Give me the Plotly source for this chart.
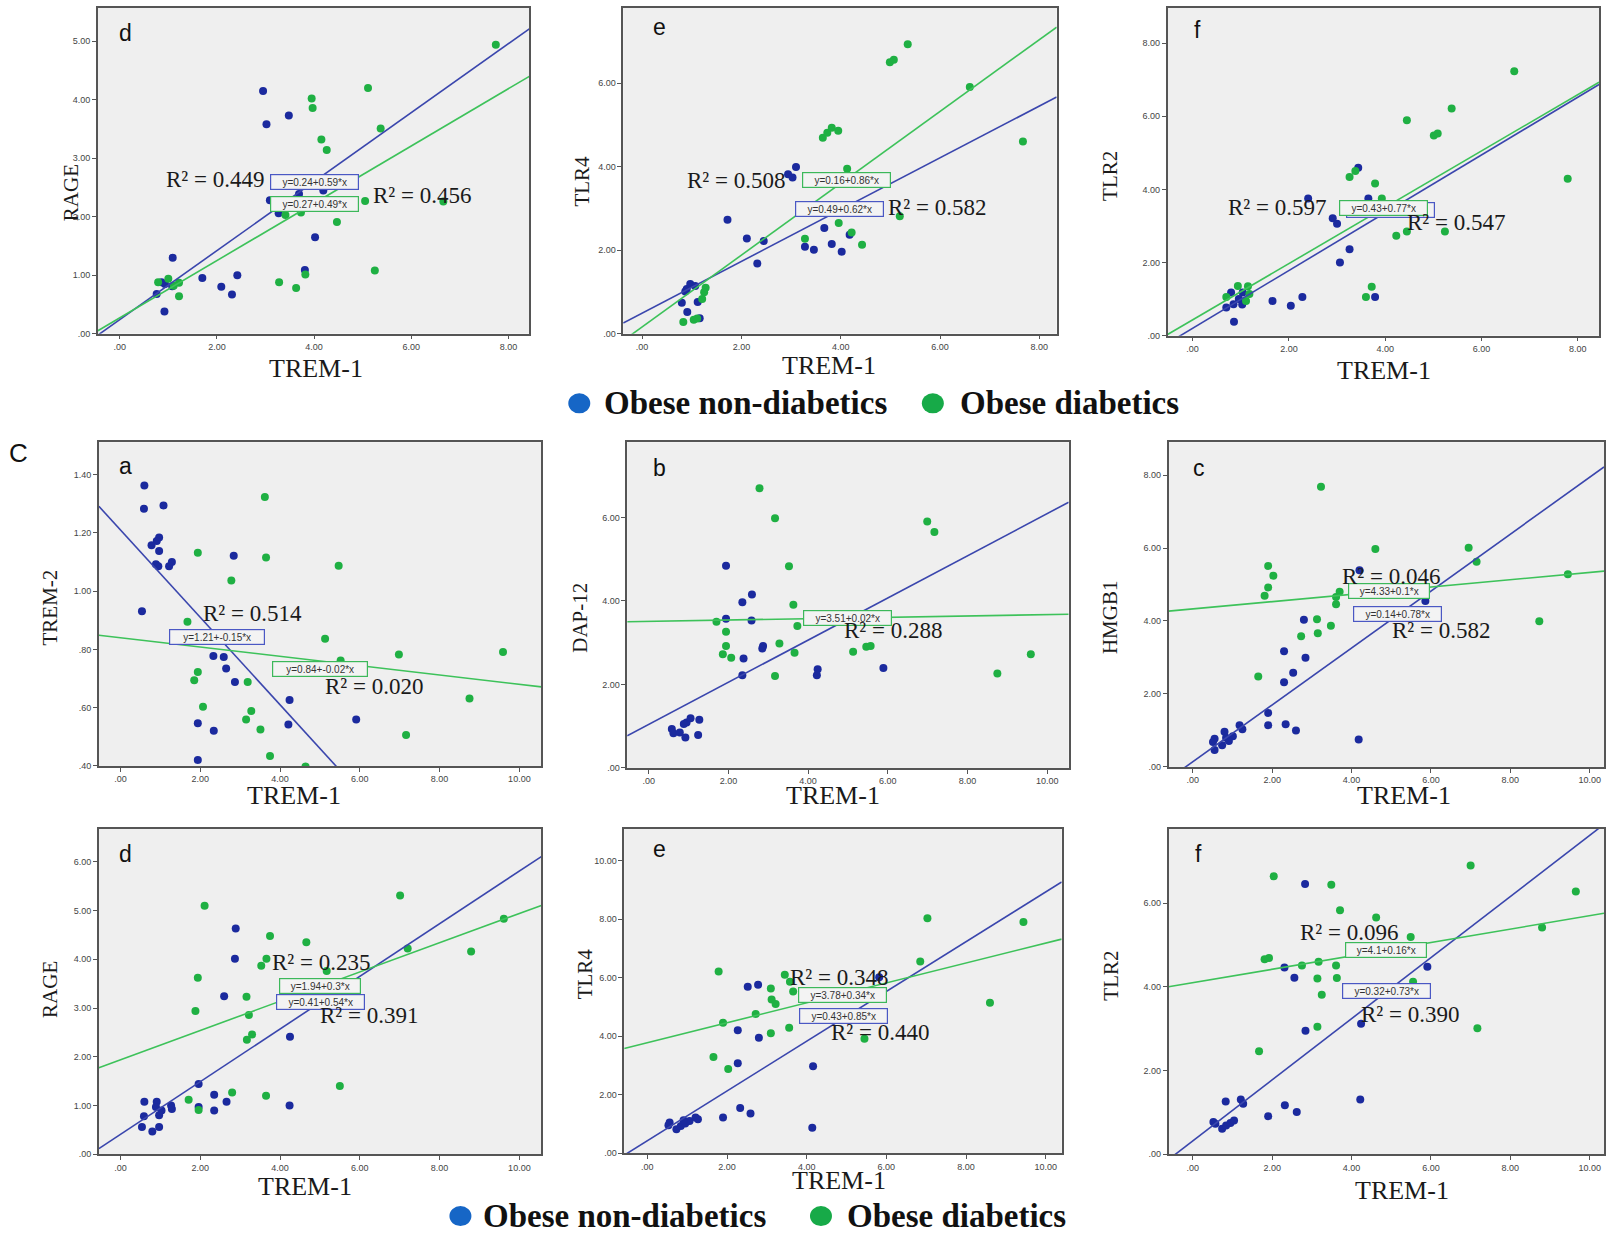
import plotly.graph_objects as go

W, H = 1606, 1238

# ---------------- data ----------------
# Row 1 : d (RAGE), e (TLR4), f (TLR2) vs TREM-1
r1d_blue_x = [2.95, 3.02, 3.48, 3.09, 3.69, 3.27, 4.19, 4.02, 3.81, 1.09, 1.70, 2.09, 2.42, 2.31, 0.92, 0.86, 1.08, 0.76, 0.93]
r1d_blue_y = [4.15, 3.58, 3.73, 2.28, 2.39, 2.06, 2.45, 1.65, 1.09, 1.30, 0.95, 0.80, 1.00, 0.67, 0.38, 0.88, 0.81, 0.68, 0.85]
r1d_green_x = [7.74, 5.11, 3.95, 3.97, 5.37, 4.15, 4.26, 5.05, 6.66, 3.73, 3.41, 4.47, 5.25, 3.82, 3.28, 3.63, 0.79, 1.00, 1.22, 1.11, 1.22]
r1d_green_y = [4.94, 4.20, 4.02, 3.86, 3.51, 3.32, 3.14, 2.27, 2.26, 2.07, 2.03, 1.91, 1.08, 1.01, 0.88, 0.78, 0.88, 0.94, 0.87, 0.82, 0.64]

r1e_blue_x = [3.10, 2.94, 3.03, 1.72, 2.11, 2.45, 2.32, 3.67, 3.28, 3.46, 3.82, 4.02, 4.18, 0.97, 0.90, 1.07, 0.87, 0.80, 1.12, 0.91, 1.16]
r1e_blue_y = [3.99, 3.82, 3.74, 2.73, 2.28, 2.22, 1.68, 2.53, 2.08, 2.01, 2.15, 1.96, 2.37, 1.19, 1.07, 1.14, 1.01, 0.74, 0.76, 0.52, 0.37]
r1e_green_x = [5.35, 4.99, 5.07, 6.60, 7.67, 3.64, 3.73, 3.82, 3.95, 4.13, 5.19, 3.96, 4.22, 3.28, 4.43, 1.28, 1.25, 1.21, 0.83, 1.04, 1.11]
r1e_green_y = [6.93, 6.50, 6.56, 5.91, 4.60, 4.69, 4.81, 4.93, 4.86, 3.95, 2.81, 2.65, 2.42, 2.27, 2.13, 1.10, 0.99, 0.83, 0.28, 0.33, 0.36]

r1f_blue_x = [3.44, 2.40, 3.65, 2.91, 3.00, 3.26, 3.06, 2.28, 1.66, 2.04, 3.79, 0.80, 1.04, 0.70, 0.85, 0.96, 1.03, 0.86]
r1f_blue_y = [4.59, 3.75, 3.75, 3.21, 3.06, 2.36, 2.00, 1.06, 0.95, 0.82, 1.06, 1.18, 1.18, 0.77, 0.86, 1.00, 0.85, 0.38]
r1f_green_x = [6.68, 5.38, 4.45, 5.01, 5.09, 7.79, 3.26, 3.38, 3.79, 3.93, 4.23, 4.45, 5.24, 3.72, 3.60, 0.94, 1.15, 0.70, 1.11, 1.18]
r1f_green_y = [7.23, 6.21, 5.89, 5.47, 5.53, 4.29, 4.34, 4.50, 4.16, 3.75, 2.73, 2.85, 2.85, 1.34, 1.06, 1.36, 1.35, 1.06, 0.95, 1.14]

# Row 2 : a (TREM-2), b (DAP-12), c (HMGB1) vs TREM-1
r2a_blue_x = [0.60, 0.59, 1.08, 0.97, 0.91, 0.78, 0.97, 0.89, 0.95, 1.29, 1.22, 2.84, 0.54, 2.33, 2.59, 2.65, 2.87, 4.24, 1.94, 2.34, 4.21, 5.91, 1.94]
r2a_blue_y = [1.362, 1.283, 1.294, 1.184, 1.172, 1.157, 1.138, 1.092, 1.085, 1.100, 1.085, 1.121, 0.931, 0.777, 0.774, 0.734, 0.688, 0.626, 0.546, 0.521, 0.542, 0.559, 0.420]
r2a_green_x = [3.62, 1.94, 3.65, 5.47, 2.78, 1.68, 5.13, 6.98, 9.59, 1.94, 1.85, 3.19, 2.07, 3.28, 3.15, 3.51, 8.75, 7.16, 3.75, 4.64, 5.52]
r2a_green_y = [1.323, 1.132, 1.115, 1.087, 1.036, 0.895, 0.836, 0.782, 0.791, 0.722, 0.694, 0.688, 0.603, 0.588, 0.559, 0.525, 0.631, 0.506, 0.434, 0.398, 0.762]

r2b_blue_x = [1.94, 2.59, 2.35, 1.94, 2.58, 2.87, 2.85, 2.38, 2.35, 4.24, 4.22, 5.89, 0.58, 0.62, 0.78, 0.95, 1.05, 1.27, 0.92, 1.24, 0.88]
r2b_blue_y = [4.84, 4.15, 3.97, 3.57, 3.53, 2.92, 2.86, 2.62, 2.22, 2.36, 2.22, 2.39, 0.93, 0.83, 0.85, 1.09, 1.19, 1.15, 0.73, 0.79, 1.05]
r2b_green_x = [2.78, 3.17, 6.99, 7.17, 3.52, 3.63, 1.70, 1.94, 3.73, 1.94, 3.28, 1.86, 2.07, 3.66, 5.13, 5.46, 5.57, 3.17, 8.75, 9.59]
r2b_green_y = [6.70, 5.98, 5.90, 5.65, 4.83, 3.91, 3.50, 3.26, 3.40, 2.92, 2.98, 2.72, 2.64, 2.76, 2.78, 2.90, 2.92, 2.20, 2.26, 2.72]

r2c_blue_x = [4.20, 5.86, 2.80, 2.30, 2.84, 2.53, 2.30, 1.90, 1.90, 2.34, 2.60, 4.18, 1.18, 1.25, 1.01, 0.80, 0.84, 0.55, 0.55, 0.74, 0.91, 0.51]
r2c_blue_y = [5.39, 4.55, 4.03, 3.17, 2.99, 2.58, 2.32, 1.48, 1.14, 1.17, 1.00, 0.75, 1.14, 1.03, 0.84, 0.96, 0.80, 0.77, 0.46, 0.59, 0.71, 0.68]
r2c_green_x = [3.23, 4.60, 6.95, 7.15, 9.45, 1.90, 2.03, 1.90, 1.81, 3.70, 3.61, 3.61, 3.13, 3.48, 2.73, 3.15, 1.65, 8.73]
r2c_green_y = [7.68, 5.97, 6.01, 5.62, 5.28, 5.51, 5.24, 4.92, 4.69, 4.80, 4.66, 4.46, 4.05, 3.87, 3.58, 3.66, 2.48, 3.99]

# Row 3 : d (RAGE), e (TLR4), f (TLR2) vs TREM-1
r3d_blue_x = [2.89, 2.87, 2.60, 4.25, 1.96, 4.24, 2.35, 2.66, 2.35, 1.96, 0.60, 0.91, 0.89, 1.03, 1.29, 0.97, 0.59, 0.54, 0.80, 0.97, 1.27]
r3d_blue_y = [4.63, 4.01, 3.24, 2.41, 1.44, 1.00, 1.22, 1.08, 0.90, 0.97, 1.08, 1.08, 0.97, 0.90, 0.93, 0.80, 0.78, 0.56, 0.47, 0.56, 1.00]
r3d_green_x = [7.01, 2.11, 9.61, 3.75, 4.66, 8.79, 3.66, 3.53, 5.17, 7.20, 1.94, 3.16, 1.88, 3.22, 3.30, 3.17, 5.50, 2.80, 1.71, 3.65, 1.96]
r3d_green_y = [5.31, 5.10, 4.83, 4.48, 4.35, 4.16, 4.01, 3.87, 3.76, 4.22, 3.62, 3.23, 2.94, 2.86, 2.46, 2.35, 1.40, 1.27, 1.12, 1.20, 0.91]

r3e_blue_x = [2.52, 2.78, 5.82, 2.27, 2.80, 2.27, 4.16, 2.33, 2.59, 1.90, 4.14, 0.56, 0.53, 0.73, 0.84, 0.95, 1.06, 1.21, 1.27, 0.91]
r3e_blue_y = [5.69, 5.76, 6.01, 4.20, 3.95, 3.08, 2.97, 1.55, 1.36, 1.22, 0.87, 1.05, 0.96, 0.82, 0.93, 1.02, 1.10, 1.22, 1.16, 1.13]
r3e_green_x = [7.03, 9.44, 6.85, 1.79, 3.45, 3.58, 3.10, 3.66, 3.12, 3.22, 2.72, 1.90, 3.10, 3.56, 5.45, 1.66, 2.03, 8.60]
r3e_green_y = [8.03, 7.90, 6.55, 6.21, 6.10, 5.86, 5.63, 5.53, 5.25, 5.10, 4.76, 4.46, 4.10, 4.29, 3.91, 3.29, 2.88, 5.14]

r3f_blue_x = [2.83, 2.31, 2.56, 5.91, 4.24, 2.84, 4.22, 0.83, 1.21, 1.27, 2.32, 2.62, 1.90, 0.52, 0.57, 0.74, 0.84, 0.95, 1.04]
r3f_blue_y = [6.46, 4.46, 4.22, 4.48, 3.12, 2.95, 1.31, 1.26, 1.31, 1.21, 1.17, 1.01, 0.91, 0.77, 0.73, 0.61, 0.69, 0.75, 0.81]
r3f_green_x = [7.00, 2.04, 3.49, 9.65, 3.71, 4.62, 8.80, 5.49, 1.92, 1.81, 2.75, 3.17, 3.61, 3.14, 3.63, 5.55, 3.25, 3.14, 7.17, 1.67]
r3f_green_y = [6.90, 6.64, 6.44, 6.28, 5.83, 5.66, 5.42, 5.19, 4.69, 4.66, 4.51, 4.60, 4.51, 4.20, 4.21, 4.12, 3.81, 3.05, 3.01, 2.46]

# fitted lines (intercept, slope) as drawn
blue_fit = [(0.24, 0.59), (0.49, 0.62), (0.20, 0.79), (1.21, -0.15), (1.04, 0.505), (0.14, 0.78), (0.41, 0.54), (0.43, 0.85), (0.32, 0.73)]
green_fit = [(0.27, 0.49), (0.16, 0.86), (0.43, 0.77), (0.84, -0.016), (3.51, 0.016), (4.33, 0.10), (1.94, 0.30), (3.78, 0.34), (4.10, 0.16)]

# equation labels
blue_eq = ["y=0.24+0.59*x", "y=0.49+0.62*x", "y=0.20+0.79*x", "y=1.21+-0.15*x", None, "y=0.14+0.78*x", "y=0.41+0.54*x", "y=0.43+0.85*x", "y=0.32+0.73*x"]
green_eq = ["y=0.27+0.49*x", "y=0.16+0.86*x", "y=0.43+0.77*x", "y=0.84+-0.02*x", "y=3.51+0.02*x", "y=4.33+0.1*x", "y=1.94+0.3*x", "y=3.78+0.34*x", "y=4.1+0.16*x"]

# R-squared labels
r2_text = [["0.449", "0.456"], ["0.508", "0.582"], ["0.597", "0.547"], ["0.514", "0.020"], ["0.288"],
           ["0.046", "0.582"], ["0.235", "0.391"], ["0.348", "0.440"], ["0.096", "0.390"]]

# axis labels / ticks
panel_letters = ["d", "e", "f", "a", "b", "c", "d", "e", "f"]
y_titles = ["RAGE", "TLR4", "TLR2", "TREM-2", "DAP-12", "HMGB1", "RAGE", "TLR4", "TLR2"]
x_title = "TREM-1"
x_ticks_row1 = [0, 2, 4, 6, 8]
x_ticks_rows23 = [0, 2, 4, 6, 8, 10]
y_ticks = [[0, 1, 2, 3, 4, 5], [0, 2, 4, 6], [0, 2, 4, 6, 8], [0.4, 0.6, 0.8, 1.0, 1.2, 1.4], [0, 2, 4, 6],
           [0, 2, 4, 6, 8], [0, 1, 2, 3, 4, 5, 6], [0, 2, 4, 6, 8, 10], [0, 2, 4, 6]]
legend_names = ["Obese non-diabetics", "Obese diabetics"]

series = [
    (r1d_blue_x, r1d_blue_y, r1d_green_x, r1d_green_y),
    (r1e_blue_x, r1e_blue_y, r1e_green_x, r1e_green_y),
    (r1f_blue_x, r1f_blue_y, r1f_green_x, r1f_green_y),
    (r2a_blue_x, r2a_blue_y, r2a_green_x, r2a_green_y),
    (r2b_blue_x, r2b_blue_y, r2b_green_x, r2b_green_y),
    (r2c_blue_x, r2c_blue_y, r2c_green_x, r2c_green_y),
    (r3d_blue_x, r3d_blue_y, r3d_green_x, r3d_green_y),
    (r3e_blue_x, r3e_blue_y, r3e_green_x, r3e_green_y),
    (r3f_blue_x, r3f_blue_y, r3f_green_x, r3f_green_y),
]

# ---------------- layout / style ----------------
boxes = [(98, 530, 8, 335), (624, 1058, 8, 335), (1169, 1601, 8, 337),
         (99, 542, 444, 769), (628, 1070, 444, 771), (1170, 1606, 444, 770),
         (99, 542, 832, 1159), (625, 1063, 832, 1158), (1170, 1606, 832, 1159)]
xranges = [(-0.45, 8.43), (-0.38, 8.35), (-0.52, 8.44), (-0.54, 10.55), (-0.54, 10.54), (-0.61, 10.36),
           (-0.54, 10.55), (-0.58, 10.4), (-0.61, 10.36)]
yranges = [(0, 5.57), (0, 7.8), (0, 8.96), (0.40, 1.511), (0, 7.8), (0, 8.9), (0, 6.68), (0, 11.09), (0, 7.78)]
ytitle_pos = [(71, 193), (583, 182), (1112, 177), (50, 610), (581, 620), (1112, 620), (50, 993), (586, 978), (1112, 980)]
xtitle_pos = [(316, 370), (830, 367), (1386, 372), (294, 799), (834, 799), (1406, 799), (305, 1191), (840, 1185), (1404, 1195)]
letter_pos = [(126, 33), (660, 27), (1199, 30), (126, 468), (660, 470), (1200, 470), (126, 857), (660, 852), (1200, 857)]
r2_pos = [[(3.02, 2.64, "right"), (5.18, 2.36, "left")], [(2.91, 3.66, "right"), (4.92, 3.02, "left")],
          [(2.82, 3.5, "right"), (4.42, 3.09, "left")], [(2.03, 0.924, "left"), (5.09, 0.673, "left")],
          [(4.86, 3.28, "left")], [(3.71, 5.21, "left"), (4.98, 3.73, "left")],
          [(3.75, 3.93, "left"), (4.96, 2.84, "left")], [(3.53, 6.01, "left"), (4.57, 4.14, "left")],
          [(2.64, 5.29, "left"), (4.18, 3.35, "left")]]
blue_eq_pos = [(4.01, 2.60), (3.98, 2.98), (4.12, 3.43), (2.41, 0.844), None, (5.16, 4.19), (5.01, 3.13), (4.92, 4.68), (4.88, 3.89)]
green_eq_pos = [(4.01, 2.22), (4.11, 3.67), (3.97, 3.50), (4.99, 0.734), (5.0, 3.6), (4.95, 4.81), (5.0, 3.45), (4.91, 5.42), (4.87, 4.89)]

BLUE_PT = "#1b2a9e"
GREEN_PT = "#1fb043"
BLUE_LN = "#3a46ad"
GREEN_LN = "#3dc25a"
PLOT_BG = "#efefef"
FRAME = "#555555"
SERIF = "Liberation Serif, Times New Roman, serif"
SANS = "Liberation Sans, Arial, sans-serif"


def spss(v):
    s = f"{v:.2f}"
    return s[1:] if s.startswith("0") else s


def px(x):
    return x / W


def py(y):
    return 1 - y / H


fig = go.Figure()
annotations = []

for i in range(9):
    k = "" if i == 0 else str(i + 1)
    xa, ya = "x" + k, "y" + k
    bx, by, gx, gy = series[i]
    x0, x1 = xranges[i]

    fig.add_trace(go.Scatter(x=bx, y=by, mode="markers", xaxis=xa, yaxis=ya, showlegend=False,
                             marker=dict(color=BLUE_PT, size=8, line=dict(width=0)), hoverinfo="skip"))
    fig.add_trace(go.Scatter(x=gx, y=gy, mode="markers", xaxis=xa, yaxis=ya, showlegend=False,
                             marker=dict(color=GREEN_PT, size=8, line=dict(width=0)), hoverinfo="skip"))
    for (a, b), col in ((blue_fit[i], BLUE_LN), (green_fit[i], GREEN_LN)):
        fig.add_trace(go.Scatter(x=[x0, x1], y=[a + b * x0, a + b * x1], mode="lines", xaxis=xa, yaxis=ya,
                                 showlegend=False, line=dict(color=col, width=1.6), hoverinfo="skip"))

    l, r, t, btm = boxes[i]
    xt = x_ticks_row1 if i < 3 else x_ticks_rows23
    axis_common = dict(showline=True, linecolor=FRAME, linewidth=1.5, mirror=True, ticks="outside",
                       ticklen=4, tickcolor=FRAME, tickwidth=1, showgrid=False, zeroline=False,
                       tickfont=dict(family=SANS, size=9, color="#444"), fixedrange=True)
    fig.update_layout(**{
        "xaxis" + k: dict(domain=[l / W, r / W], range=list(xranges[i]), anchor=ya,
                          tickvals=xt, ticktext=[spss(v) for v in xt], **axis_common),
        "yaxis" + k: dict(domain=[1 - btm / H, 1 - t / H], range=list(yranges[i]), anchor=xa,
                          tickvals=y_ticks[i], ticktext=[spss(v) for v in y_ticks[i]], **axis_common),
    })

    for txt, pos, col in ((blue_eq[i], blue_eq_pos[i], "#4a58c4"), (green_eq[i], green_eq_pos[i], "#3cb85a")):
        if txt is None:
            continue
        annotations.append(dict(x=pos[0], y=pos[1], xref=xa, yref=ya, text=txt, showarrow=False,
                                font=dict(family=SANS, size=10, color="#333"), bgcolor="#f3f3f3",
                                bordercolor=col, borderwidth=1.2, borderpad=1,
                                width=int(6.9 * len(txt)) - 4, height=12, xanchor="center", yanchor="middle"))
    for txt, (xx, yy, anc) in zip(r2_text[i], r2_pos[i]):
        annotations.append(dict(x=xx, y=yy, xref=xa, yref=ya, text="R\u00b2 = " + txt, showarrow=False,
                                font=dict(family=SERIF, size=23, color="#1a1a1a"), xanchor=anc, yanchor="middle"))
    annotations.append(dict(x=px(ytitle_pos[i][0]), y=py(ytitle_pos[i][1]), xref="paper", yref="paper",
                            text=y_titles[i], textangle=-90, showarrow=False,
                            font=dict(family=SERIF, size=21, color="#1a1a1a"), xanchor="center", yanchor="middle"))
    annotations.append(dict(x=px(xtitle_pos[i][0]), y=py(xtitle_pos[i][1]), xref="paper", yref="paper",
                            text=x_title, showarrow=False,
                            font=dict(family=SERIF, size=26, color="#1a1a1a"), xanchor="center", yanchor="middle"))
    annotations.append(dict(x=px(letter_pos[i][0]), y=py(letter_pos[i][1]), xref="paper", yref="paper",
                            text=panel_letters[i], showarrow=False,
                            font=dict(family=SANS, size=23, color="#111"), xanchor="center", yanchor="middle"))

annotations.append(dict(x=px(19), y=py(455), xref="paper", yref="paper", text="C", showarrow=False,
                        font=dict(family=SANS, size=26, color="#111"), xanchor="center", yanchor="middle"))

legend_rows = [((580, 405), (603, 405), (934, 405), (959, 405)),
               ((461, 1221), (482, 1221), (822, 1221), (846, 1221))]
for (bd, bt, gd, gt) in legend_rows:
    for (dot, txt_pos, col, name) in ((bd, bt, "#1666c6", legend_names[0]), (gd, gt, "#17aa48", legend_names[1])):
        fig.add_shape(type="circle", xref="paper", yref="paper", xsizemode="pixel", ysizemode="pixel",
                      xanchor=px(dot[0]), yanchor=py(dot[1]), x0=-11, x1=11, y0=-10, y1=10,
                      fillcolor=col, line=dict(width=0))
        annotations.append(dict(x=px(txt_pos[0]), y=py(txt_pos[1]), xref="paper", yref="paper",
                                text="<b>" + name + "</b>", showarrow=False,
                                font=dict(family=SERIF, size=33, color="#111"), xanchor="left", yanchor="middle"))

fig.update_layout(width=W, height=H, margin=dict(l=0, r=0, t=0, b=0), paper_bgcolor="white",
                  plot_bgcolor=PLOT_BG, annotations=annotations, showlegend=False)

fig.write_html("out.html", include_plotlyjs=True, config={"displayModeBar": False},
               post_script="document.body.style.margin='0';document.body.style.overflow='hidden';")
